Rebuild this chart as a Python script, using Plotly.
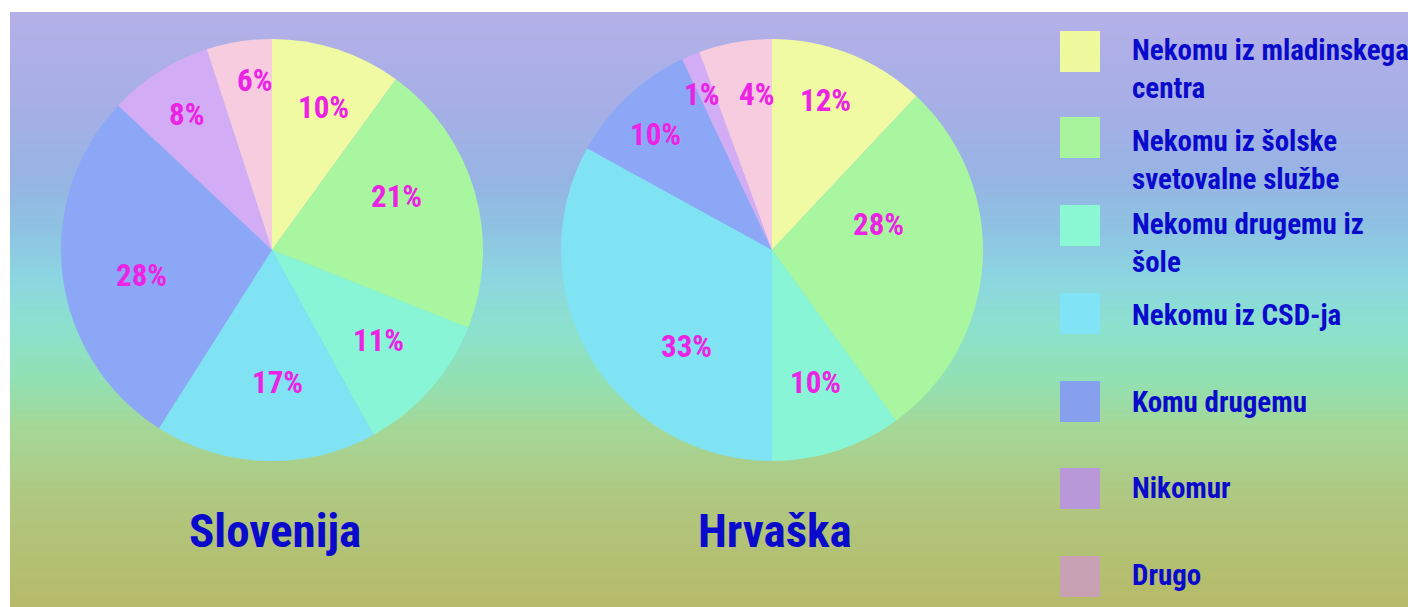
import math
import plotly.graph_objects as go

W, H = 1408, 607

# ---------------- data ----------------
categories = ["Nekomu iz mladinskega centra", "Nekomu iz šolske svetovalne službe",
              "Nekomu drugemu iz šole", "Nekomu iz CSD-ja", "Komu drugemu",
              "Nikomur", "Drugo"]
legend_labels = ["Nekomu iz mladinskega<br>centra", "Nekomu iz šolske<br>svetovalne službe",
                 "Nekomu drugemu iz<br>šole", "Nekomu iz CSD-ja", "Komu drugemu",
                 "Nikomur", "Drugo"]
countries = ["Slovenija", "Hrvaška"]
slovenija = [10, 21, 11, 17, 28, 8, 5]
hrvaska = [12, 28, 10, 33, 10, 1.4, 5.6]
# labels as printed on the chart
slovenija_labels = ["10%", "21%", "11%", "17%", "28%", "8%", "6%"]
hrvaska_labels = ["12%", "28%", "10%", "33%", "10%", "1%", "4%"]

# ---------------- styles ----------------
pie_colors = ["#F0FAA2", "#A8F7A0", "#88F6D6", "#7FE3F4", "#8CA7F5", "#D2ACF4", "#F7CCDF"]
legend_colors = ["#EFFA9E", "#A8F49C", "#8BF8D4", "#80E4F6", "#86A0EE", "#B898D8", "#C8A2B4"]
label_color = "#EC22E4"
blue_text = "#0A0ACC"
FONT = "Roboto Condensed, Archivo Narrow, PT Sans Narrow, DejaVu Sans Condensed, sans-serif"

# pie geometry (pixels)
pie_centers = [(272, 250), (772, 250)]
pie_radius = 211
label_r = [[0.72, 0.64, 0.66, 0.63, 0.63, 0.76, 0.81],
           [0.75, 0.52, 0.66, 0.61, 0.78, 0.81, 0.74]]
label_dang = [[2, -7, -1, -4, -4, 0, 3],
              [-2, -17, 0, -18, -2, -1.5, 4.5]]
title_y = 530

bg_stops = [(12, (180, 176, 232)), (112, (165, 175, 230)), (179, (150, 180, 228)),
            (229, (142, 195, 226)), (279, (140, 214, 225)), (329, (140, 225, 205)),
            (379, (145, 225, 180)), (429, (165, 215, 150)), (495, (175, 200, 130)),
            (579, (180, 190, 110)), (607, (182, 186, 106))]

sq_tops = [31, 117, 205, 293, 381, 468, 556]
text_mid = [69, 160, 243, 315, 402, 488, 575]


def px(x):
    return x / W


def py(y):
    return 1 - y / H


def bg_color(y):
    for (y0, c0), (y1, c1) in zip(bg_stops[:-1], bg_stops[1:]):
        if y0 <= y <= y1:
            t = (y - y0) / (y1 - y0)
            c = [round(a + (b - a) * t) for a, b in zip(c0, c1)]
            return "rgb(%d,%d,%d)" % tuple(c)
    return "rgb(%d,%d,%d)" % bg_stops[-1][1]


fig = go.Figure()
shapes = []
annotations = []

# background gradient
step = 3
y = 12
while y < H:
    y2 = min(y + step, H)
    shapes.append(dict(type="rect", xref="paper", yref="paper", layer="below",
                       x0=px(10), x1=1, y0=py(y2 + 0.5), y1=py(y),
                       fillcolor=bg_color((y + y2) / 2), line=dict(width=0)))
    y = y2

for k, (vals, labs, name) in enumerate(zip([slovenija, hrvaska],
                                           [slovenija_labels, hrvaska_labels], countries)):
    cx, cy = pie_centers[k]
    fig.add_trace(go.Pie(
        values=vals, labels=categories, name=name, sort=False,
        direction="clockwise", rotation=0,
        marker=dict(colors=pie_colors, line=dict(width=0)),
        textinfo="none", showlegend=False, hoverinfo="label+value",
        domain=dict(x=[px(cx - pie_radius), px(cx + pie_radius)],
                    y=[py(cy + pie_radius), py(cy - pie_radius)]),
    ))
    total = sum(vals)
    cum = 0
    for i, v in enumerate(vals):
        mid = (cum + v / 2) / total * 2 * math.pi + math.radians(label_dang[k][i])
        cum += v
        r = label_r[k][i] * pie_radius
        lx = cx + r * math.sin(mid)
        ly = cy - r * math.cos(mid)
        annotations.append(dict(x=px(lx), y=py(ly), xref="paper", yref="paper",
                                text=labs[i], showarrow=False,
                                xanchor="center", yanchor="middle",
                                font=dict(family=FONT, size=31, color=label_color,
                                          weight="bold")))
    annotations.append(dict(x=px(cx + 3), y=py(title_y), xref="paper", yref="paper",
                            text=name, showarrow=False, xanchor="center", yanchor="middle",
                            font=dict(family=FONT, size=47, color=blue_text, weight="bold")))

# custom legend
for i, lab in enumerate(legend_labels):
    top = sq_tops[i]
    shapes.append(dict(type="rect", xref="paper", yref="paper",
                       x0=px(1060), x1=px(1100), y0=py(top + 41), y1=py(top),
                       fillcolor=legend_colors[i], line=dict(width=0)))
    annotations.append(dict(x=px(1130), y=py(text_mid[i]), xref="paper", yref="paper",
                            text=lab, showarrow=False, xanchor="left", yanchor="middle",
                            align="left",
                            font=dict(family=FONT, size=29, color=blue_text, weight="bold")))

fig.update_layout(
    width=W, height=H, margin=dict(l=0, r=0, t=0, b=0),
    paper_bgcolor="white", plot_bgcolor="white",
    shapes=shapes, annotations=annotations,
)

fig.write_html("out.html", config={"displayModeBar": False},
               post_script="document.body.style.margin='0';document.body.style.overflow='hidden';")
